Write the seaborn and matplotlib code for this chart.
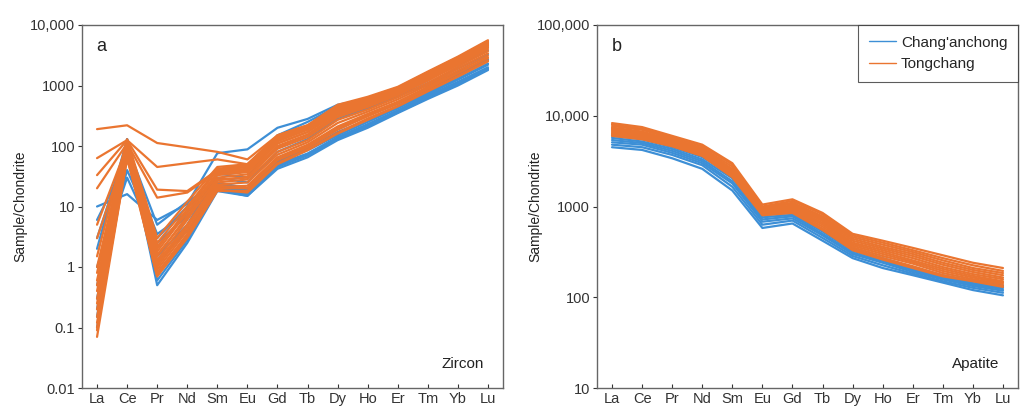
import numpy as np
import pandas as pd
import matplotlib
matplotlib.use("Agg")
import matplotlib.pyplot as plt
import seaborn as sns

# ==========================================
# DATA (chondrite-normalised REE)
# ==========================================
elements = ["La", "Ce", "Pr", "Nd", "Sm", "Eu", "Gd", "Tb", "Dy", "Ho", "Er", "Tm", "Yb", "Lu"]
sites = ["Chang'anchong", "Tongchang"]

# zircon - Chang'anchong
zircon_cac = [
    [10, 16, 6, 11, 76, 88, 200, 280, 480, 600, 820, 1300, 2200, 3800],
    [6, 60, 3.5, 8, 30, 25, 80, 130, 280, 420, 650, 1100, 1900, 3300],
    [3, 100, 5, 12, 25, 20, 60, 100, 200, 320, 500, 850, 1500, 2700],
    [0.15, 110, 0.5, 2.5, 18, 15, 45, 70, 130, 210, 360, 620, 1050, 1850],
    [0.3, 90, 0.8, 3.2, 20, 16, 48, 72, 135, 220, 370, 640, 1100, 1900],
    [0.5, 40, 3, 10, 22, 18, 50, 75, 140, 230, 390, 680, 1150, 2000],
    [1, 30, 2.5, 7, 24, 19, 55, 85, 150, 250, 420, 720, 1250, 2200],
    [0.2, 120, 1.2, 4, 19, 15, 42, 65, 125, 200, 350, 600, 1000, 1800],
    [0.1, 130, 0.6, 2.8, 21, 17, 55, 90, 170, 270, 440, 760, 1300, 2300],
    [2, 130, 1.5, 5, 35, 30, 150, 250, 450, 560, 720, 1000, 1700, 2600],
]

# zircon - Tongchang
zircon_tc = [
    [190, 220, 112, 95, 80, 60, 150, 220, 420, 600, 900, 1550, 2800, 5200],
    [63, 125, 45, 52, 60, 50, 140, 210, 400, 580, 880, 1500, 2700, 5000],
    [33, 125, 19, 18, 40, 45, 130, 200, 380, 560, 850, 1450, 2600, 4800],
    [20, 110, 14, 17, 38, 42, 120, 190, 360, 540, 820, 1400, 2500, 4600],
    [5, 100, 2.2, 8, 35, 38, 110, 170, 350, 500, 780, 1350, 2450, 4500],
    [3, 90, 1.6, 6.5, 28, 30, 95, 150, 310, 460, 720, 1250, 2300, 4200],
    [1.5, 130, 3.0, 12, 45, 50, 150, 220, 480, 650, 950, 1700, 3000, 5600],
    [1.0, 120, 2.5, 10, 42, 48, 140, 210, 450, 620, 920, 1650, 2900, 5400],
    [0.8, 115, 2.0, 9, 40, 45, 130, 200, 420, 600, 900, 1600, 2800, 5200],
    [0.6, 110, 1.8, 8, 36, 40, 120, 185, 390, 560, 850, 1500, 2650, 4900],
    [0.5, 105, 1.5, 7, 33, 37, 110, 170, 360, 520, 800, 1400, 2500, 4600],
    [0.4, 100, 1.3, 6, 30, 34, 100, 155, 330, 480, 740, 1300, 2350, 4300],
    [0.3, 95, 1.1, 5, 27, 31, 90, 140, 300, 440, 690, 1200, 2200, 4000],
    [0.25, 90, 1.0, 4.5, 25, 28, 80, 125, 270, 400, 640, 1100, 2050, 3700],
    [0.2, 85, 0.9, 4, 23, 25, 72, 115, 240, 370, 590, 1020, 1900, 3400],
    [0.15, 80, 0.8, 3.5, 21, 22, 65, 105, 210, 340, 540, 950, 1750, 3100],
    [0.12, 75, 0.75, 3.2, 20, 20, 58, 95, 185, 310, 500, 880, 1600, 2850],
    [0.09, 70, 0.7, 3.0, 18, 18, 52, 88, 165, 285, 460, 820, 1450, 2600],
    [0.07, 65, 0.7, 3.5, 19, 17, 50, 85, 160, 270, 450, 800, 1400, 2500],
    [0.1, 60, 1.2, 5, 22, 20, 60, 100, 200, 320, 520, 900, 1600, 2900],
]

# apatite - Chang'anchong
apatite_cac = [
    [6000, 5500, 4500, 3500, 2200, 800, 850, 560, 340, 270, 215, 175, 150, 135],
    [5700, 5200, 4300, 3300, 2050, 760, 810, 530, 325, 260, 205, 168, 143, 128],
    [5400, 5000, 4100, 3150, 1900, 720, 780, 500, 310, 250, 198, 162, 138, 123],
    [5100, 4800, 3900, 3000, 1800, 680, 740, 480, 300, 240, 190, 157, 133, 118],
    [4800, 4500, 3700, 2850, 1650, 630, 700, 450, 285, 225, 182, 150, 127, 112],
    [4500, 4200, 3400, 2600, 1500, 580, 650, 420, 270, 210, 175, 145, 120, 105],
]

# apatite - Tongchang
apatite_tc = [
    [8300, 7500, 6000, 4800, 3000, 1050, 1200, 850, 500, 420, 350, 290, 240, 210],
    [8000, 7200, 5800, 4600, 2900, 1000, 1150, 820, 480, 400, 330, 270, 225, 195],
    [7700, 7000, 5600, 4400, 2750, 980, 1100, 780, 460, 380, 315, 255, 210, 185],
    [7400, 6700, 5400, 4300, 2600, 950, 1070, 750, 440, 360, 300, 240, 200, 175],
    [7200, 6500, 5300, 4150, 2500, 920, 1030, 720, 420, 345, 285, 228, 190, 165],
    [7000, 6300, 5100, 4000, 2400, 900, 1000, 690, 400, 330, 270, 215, 180, 158],
    [6800, 6100, 5000, 3900, 2300, 880, 970, 660, 385, 315, 255, 205, 172, 150],
    [6600, 5900, 4900, 3800, 2250, 860, 940, 630, 370, 300, 245, 195, 165, 145],
    [6400, 5700, 4800, 3700, 2200, 840, 910, 600, 355, 285, 235, 185, 158, 140],
    [6200, 5600, 4700, 3650, 2150, 820, 880, 570, 340, 270, 220, 175, 152, 133],
    [6000, 5500, 4600, 3600, 2100, 800, 850, 550, 330, 260, 210, 170, 150, 130],
]

zircon_ticks = [0.01, 0.1, 1, 10, 100, 1000, 10000]
zircon_ticklabels = ["0.01", "0.1", "1", "10", "100", "1000", "10,000"]
apatite_ticks = [10, 100, 1000, 10000, 100000]
apatite_ticklabels = ["10", "100", "1000", "10,000", "100,000"]


def to_long(cac, tc):
    rows = []
    for site, samples in zip(sites, [cac, tc]):
        for i, vals in enumerate(samples):
            for j, v in enumerate(vals):
                rows.append({"site": site, "sample": f"{site}_{i}", "idx": j, "value": v})
    return pd.DataFrame(rows)


df_zircon = to_long(zircon_cac, zircon_tc)
df_apatite = to_long(apatite_cac, apatite_tc)

# ==========================================
# PLOT
# ==========================================
sns.set_style("white")
plt.rcParams["font.family"] = ["Liberation Sans", "DejaVu Sans"]

palette = {"Chang'anchong": "#3d8fd6", "Tongchang": "#ea7530"}

fig = plt.figure(figsize=(10.25, 4.08), dpi=100)
ax1 = fig.add_axes([82 / 1025, 1 - 388 / 408, 421 / 1025, 363 / 408])
ax2 = fig.add_axes([597 / 1025, 1 - 388 / 408, 421 / 1025, 363 / 408])

panels = [
    (ax1, df_zircon, zircon_ticks, zircon_ticklabels, "a", "Zircon", False),
    (ax2, df_apatite, apatite_ticks, apatite_ticklabels, "b", "Apatite", True),
]

for ax, df, yt, ytl, letter, mineral, show_legend in panels:
    sns.lineplot(data=df, x="idx", y="value", hue="site", units="sample",
                 estimator=None, palette=palette, hue_order=sites,
                 linewidth=1.6, ax=ax, legend=show_legend)
    ax.set_yscale("log")
    ax.set_ylim(yt[0], yt[-1])
    ax.set_yticks(yt)
    ax.set_yticklabels(ytl)
    ax.yaxis.set_minor_locator(matplotlib.ticker.NullLocator())
    ax.set_xlim(-0.5, 13.5)
    ax.set_xticks(range(len(elements)))
    ax.set_xticklabels(elements)
    ax.set_xlabel("")
    ax.set_ylabel("Sample/Chondrite", fontsize=10, color="#222222")
    ax.tick_params(axis="y", direction="out", length=3, width=0.8,
                   labelsize=10.5, colors="#333333", left=True, pad=2)
    ax.tick_params(axis="x", direction="in", length=3, width=0.8,
                   labelsize=10.5, colors="#333333", bottom=True, pad=3)
    for sp in ax.spines.values():
        sp.set_color("#666666")
        sp.set_linewidth(1.0)
    ax.text(0.035, 0.94, letter, transform=ax.transAxes, fontsize=13,
            ha="left", va="center", color="#222222")
    ax.text(0.955, 0.065, mineral, transform=ax.transAxes, fontsize=11,
            ha="right", va="center", color="#222222")

ax1.yaxis.set_label_coords(-0.13, 0.5)
ax2.yaxis.set_label_coords(-0.13, 0.5)

leg = ax2.legend(loc="upper right", borderaxespad=0, fancybox=False,
                 edgecolor="#333333", fontsize=11, handlelength=1.8,
                 handletextpad=0.3, borderpad=0.7, labelspacing=0.5)
leg.get_frame().set_linewidth(0.8)
for line in leg.get_lines():
    line.set_linewidth(1.0)

fig.savefig("out.png", dpi=100)
